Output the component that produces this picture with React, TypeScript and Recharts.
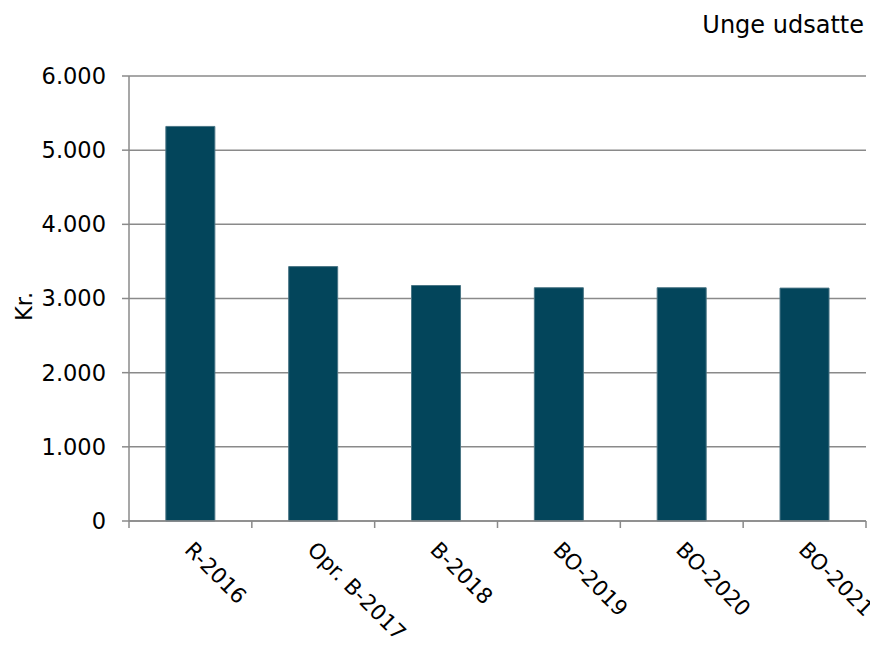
import * as React from "react"
import { BarChart, Bar, XAxis, YAxis, CartesianGrid } from "recharts"

const categories = ["R-2016", "Opr. B-2017", "B-2018", "BO-2019", "BO-2020", "BO-2021"]
const values = [5320, 3430, 3175, 3145, 3145, 3140]
const yTicks = [0, 1000, 2000, 3000, 4000, 5000, 6000]

const data = categories.map((name, i) => ({ name, value: values[i] }))

const WIDTH = 870
const HEIGHT = 646
const PLOT_LEFT = 129
const PLOT_RIGHT = 866
const BAND = (PLOT_RIGHT - PLOT_LEFT) / categories.length
const FONT = "'DejaVu Sans', Verdana, sans-serif"
const GRID = "#8a8a8a"

const fmt = (v: number) => String(v).replace(/\B(?=(\d{3})+(?!\d))/g, ".")

function CategoryTick(props: any) {
  const { x, y, payload, index } = props
  const last = index === categories.length - 1
  return (
    <g>
      <line x1={x - BAND / 2} x2={x - BAND / 2} y1={y} y2={y + 7} stroke={GRID} strokeWidth={1.5} />
      {last && (
        <line x1={x + BAND / 2} x2={x + BAND / 2} y1={y} y2={y + 7} stroke={GRID} strokeWidth={1.5} />
      )}
      <text
        x={0}
        y={0}
        transform={`translate(${x - 7}, ${y + 30}) rotate(45)`}
        textAnchor="start"
        fontSize={21.5}
        fontFamily={FONT}
        fill="#000"
      >
        {payload.value}
      </text>
    </g>
  )
}

export default function App() {
  return (
    <div style={{ position: "absolute", left: 0, top: 0, width: WIDTH, height: HEIGHT, background: "#fff" }}>
      <BarChart
        width={WIDTH}
        height={HEIGHT}
        data={data}
        margin={{ top: 76, right: WIDTH - PLOT_RIGHT, left: 0, bottom: 0 }}
        barCategoryGap="30%"
      >
        <CartesianGrid vertical={false} stroke={GRID} strokeWidth={1.5} />
        <XAxis
          dataKey="name"
          height={HEIGHT - 521}
          interval={0}
          tickLine={false}
          tickSize={0}
          tickMargin={0}
          axisLine={{ stroke: GRID, strokeWidth: 1.5 }}
          tick={<CategoryTick />}
        />
        <YAxis
          width={PLOT_LEFT}
          domain={[0, 6000]}
          ticks={yTicks}
          tickFormatter={fmt}
          interval={0}
          tickSize={7}
          tickMargin={16}
          axisLine={{ stroke: GRID, strokeWidth: 1.5 }}
          tickLine={{ stroke: GRID, strokeWidth: 1.5 }}
          tick={{ fill: "#000", fontSize: 22.5, fontFamily: FONT }}
          label={(p: any) => {
            const vb = p.viewBox || { y: 76, height: 445 }
            return (
              <text
                transform={`translate(32, ${vb.y + vb.height / 2 + 8}) rotate(-90)`}
                textAnchor="middle"
                fontSize={22.5}
                fontFamily={FONT}
                fill="#000"
              >
                Kr.
              </text>
            )
          }}
        />
        <Bar dataKey="value" fill="#03455b" stroke="#4a7585" strokeWidth={1} isAnimationActive={false} />
      </BarChart>
      <svg
        width={WIDTH}
        height={60}
        style={{ position: "absolute", left: 0, top: 0, pointerEvents: "none" }}
      >
        <text x={864} y={33} textAnchor="end" fontSize={24} fontFamily={FONT} fill="#000">
          Unge udsatte
        </text>
      </svg>
    </div>
  )
}
